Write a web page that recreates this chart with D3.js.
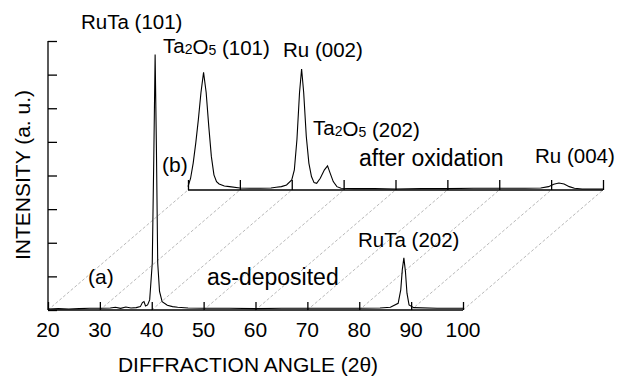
<!DOCTYPE html>
<html>
<head>
<meta charset="utf-8">
<script src="https://cdn.jsdelivr.net/npm/d3@7"></script>
<style>
  body { margin: 0; background: #fff; }
  svg { display: block; }
  text { font-family: "Liberation Sans", Arial, sans-serif; fill: #000; }
</style>
</head>
<body>
<div id="chart"></div>
<script>
// x ticks of the diffraction angle axis
var angleTicks = [20, 30, 40, 50, 60, 70, 80, 90, 100];
var intensityTicks = [0, 1, 2, 3, 4, 5, 6, 7, 8];

// (a) as-deposited, [2theta, intensity]
var asDeposited = [
  [20, 0.03], [22, 0.04], [24, 0.03], [26, 0.04], [28, 0.05], [30, 0.05],
  [32, 0.06], [33, 0.08], [34, 0.05], [35, 0.09], [36, 0.06], [37, 0.07],
  [37.8, 0.1], [38.2, 0.22], [38.5, 0.25], [38.8, 0.12], [39.2, 0.15],
  [39.6, 0.3], [40.1, 1.4], [40.4, 4.6], [40.65, 7.6], [40.9, 4.8],
  [41.15, 1.4], [41.5, 0.55], [42.0, 0.25], [43, 0.14], [44, 0.1], [45, 0.08],
  [47, 0.06], [50, 0.05], [55, 0.05], [60, 0.04], [65, 0.05], [70, 0.05],
  [75, 0.05], [80, 0.05], [84, 0.06], [86, 0.08], [87.5, 0.2], [88.0, 0.6],
  [88.3, 1.2], [88.6, 1.55], [88.9, 1.15], [89.2, 0.5], [89.6, 0.15],
  [90.5, 0.07], [95, 0.05], [100, 0.05]
];

// (b) after oxidation, [2theta, intensity]
var afterOxidation = [
  [20.0, 0.1], [20.5, 0.35], [21.0, 0.8], [21.5, 1.4], [22.0, 2.1],
  [22.5, 2.9], [23.0, 3.5], [23.5, 2.9], [24.0, 1.9], [24.5, 1.0],
  [25.0, 0.45], [25.5, 0.25], [26, 0.18], [27, 0.12], [28, 0.1], [30, 0.06],
  [32, 0.05], [34, 0.05], [36, 0.06], [37, 0.08], [38, 0.1], [39, 0.15],
  [40, 0.3], [40.5, 0.6], [41.0, 1.5], [41.5, 2.9], [41.9, 3.6], [42.3, 2.9],
  [42.8, 1.6], [43.3, 0.8], [43.8, 0.4], [44.3, 0.22], [44.8, 0.2],
  [45.5, 0.35], [46.3, 0.6], [46.9, 0.72], [47.4, 0.5], [48.0, 0.25],
  [48.7, 0.1], [49.5, 0.05], [52, 0.04], [56, 0.04], [60, 0.03], [65, 0.04],
  [70, 0.04], [75, 0.05], [80, 0.05], [85, 0.05], [88, 0.06], [89.5, 0.1],
  [90.5, 0.17], [91.5, 0.21], [92.5, 0.18], [93.5, 0.1], [94.5, 0.05],
  [96, 0.03], [100, 0.03]
];

var width = 624, height = 383;
var back = {dx: 140, dy: -120};   // offset of the (b) plane

var svg = d3.select("#chart").append("svg")
    .attr("width", width)
    .attr("height", height);

var x = d3.scaleLinear().domain([20, 100]).range([48, 463]);
var y = d3.scaleLinear().domain([0, 8]).range([310, 41]);

// dashed perspective lines from front ticks to back ticks
svg.append("g").selectAll("line")
    .data(angleTicks)
    .enter().append("line")
    .attr("x1", function(d) { return x(d); })
    .attr("y1", y(0))
    .attr("x2", function(d) { return x(d) + back.dx; })
    .attr("y2", y(0) + back.dy)
    .attr("stroke", "#888")
    .attr("stroke-width", 0.6)
    .attr("stroke-dasharray", "3,2");

var line = d3.line()
    .x(function(d) { return x(d[0]); })
    .y(function(d) { return y(d[1]); });

// back plane (b)
var gb = svg.append("g")
    .attr("transform", "translate(" + back.dx + "," + back.dy + ")");

gb.append("path")
    .datum(afterOxidation)
    .attr("d", line)
    .attr("fill", "none")
    .attr("stroke", "#000")
    .attr("stroke-width", 1.1);

gb.append("g")
    .attr("transform", "translate(0," + y(0) + ")")
    .call(d3.axisTop(x).tickValues(angleTicks).tickSize(10).tickFormat(""))
    .call(function(g) {
      g.select(".domain").attr("d", "M" + x(20) + ",0H" + x(100)).attr("stroke-width", 1.3);
      g.selectAll(".tick line").attr("stroke-width", 1.3);
    });

// front plane (a)
svg.append("path")
    .datum(asDeposited)
    .attr("d", line)
    .attr("fill", "none")
    .attr("stroke", "#000")
    .attr("stroke-width", 1.1);

svg.append("g")
    .attr("transform", "translate(0," + y(0) + ")")
    .call(d3.axisTop(x).tickValues(angleTicks).tickSize(8).tickFormat(""))
    .call(function(g) {
      g.select(".domain").attr("d", "M" + x(20) + ",0H" + x(100)).attr("stroke-width", 1.3);
      g.selectAll(".tick line").attr("stroke-width", 1.3);
    });

svg.append("g")
    .selectAll("text")
    .data(angleTicks)
    .enter().append("text")
    .attr("x", function(d) { return x(d); })
    .attr("y", 337)
    .attr("text-anchor", "middle")
    .style("font-size", "21px")
    .text(function(d) { return d; });

svg.append("g")
    .attr("transform", "translate(" + x(20) + ",0)")
    .call(d3.axisRight(y).tickValues(intensityTicks).tickSize(9).tickFormat(""))
    .call(function(g) {
      g.select(".domain").attr("d", "M0," + y(0) + "V" + y(8)).attr("stroke-width", 1.3);
      g.selectAll(".tick line").attr("stroke-width", 1.3);
    });

// axis titles
svg.append("text")
    .attr("x", 248)
    .attr("y", 372)
    .attr("text-anchor", "middle")
    .style("font-size", "21px")
    .text("DIFFRACTION ANGLE (2\u03b8)");

svg.append("text")
    .attr("transform", "translate(30,175) rotate(-90)")
    .attr("text-anchor", "middle")
    .style("font-size", "21px")
    .text("INTENSITY (a. u.)");

// peak and trace labels
function label(px, py, size, parts) {
  var t = svg.append("text")
      .attr("x", px)
      .attr("y", py)
      .style("font-size", size + "px");
  parts.forEach(function(p) {
    if (p.sub) {
      t.append("tspan").style("font-size", Math.round(size * 0.68) + "px").attr("dy", 1).text(p.sub);
      t.append("tspan").attr("dy", -1).text("");
    } else {
      t.append("tspan").text(p.t);
    }
  });
}

label(81, 29, 20.5, [{t: "RuTa (101)"}]);
label(163, 53, 20.5, [{t: "Ta"}, {sub: "2"}, {t: "O"}, {sub: "5"}, {t: " (101)"}]);
label(283, 57, 20.5, [{t: "Ru (002)"}]);
label(313, 135, 20.5, [{t: "Ta"}, {sub: "2"}, {t: "O"}, {sub: "5"}, {t: " (202)"}]);
label(359, 166, 23, [{t: "after oxidation"}]);
label(535, 163, 20.5, [{t: "Ru (004)"}]);
label(162, 172, 21, [{t: "(b)"}]);
label(88, 284, 21, [{t: "(a)"}]);
label(207, 285, 23, [{t: "as-deposited"}]);
label(358, 247, 20.5, [{t: "RuTa (202)"}]);
</script>
</body>
</html>
